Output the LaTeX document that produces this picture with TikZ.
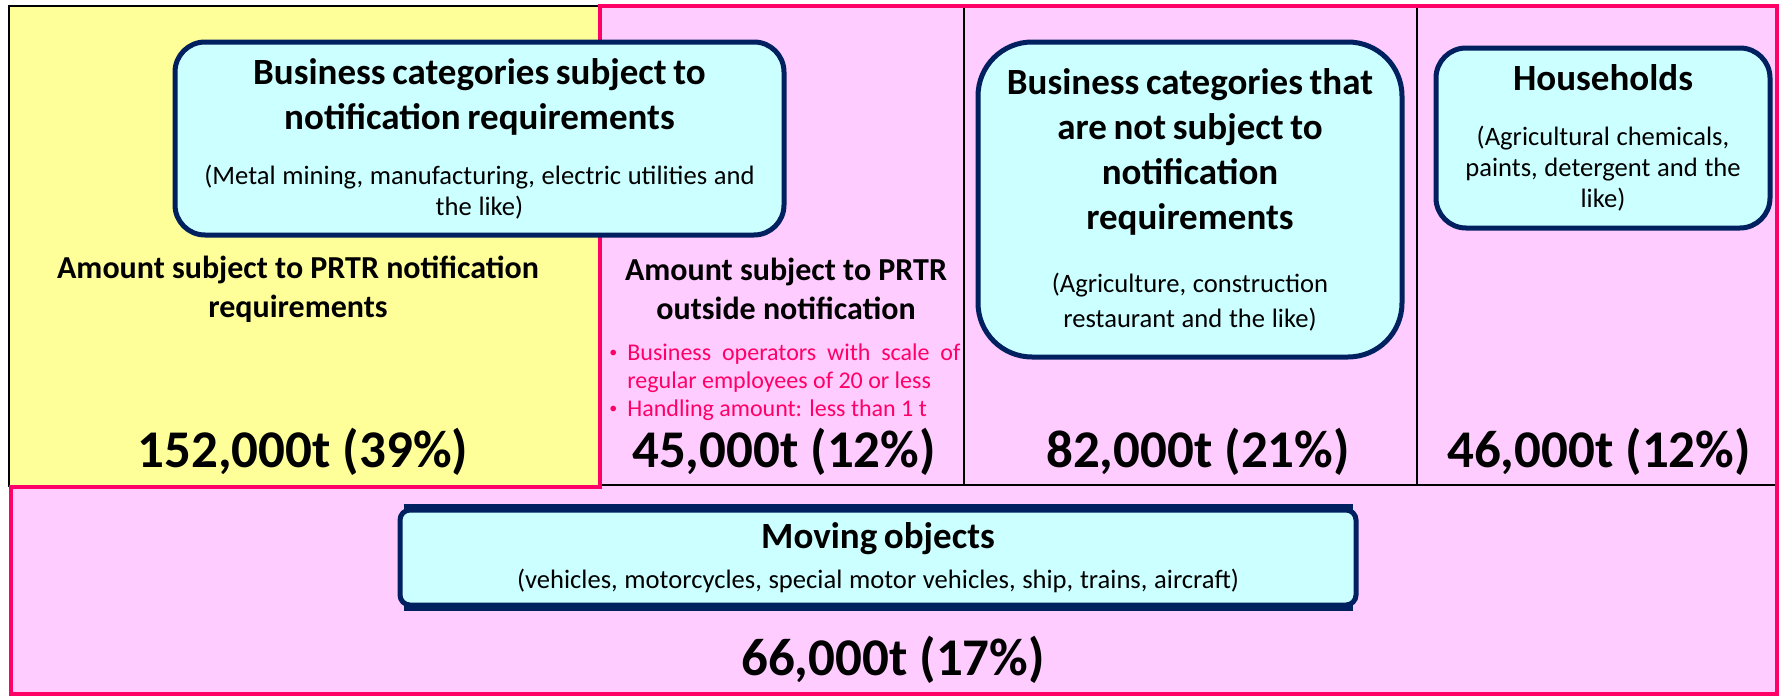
\documentclass[tikz,border=0pt]{standalone}
\usepackage{fontspec}
\setmainfont{Carlito}
\definecolor{cellyellow}{HTML}{FFFF99}
\definecolor{cellpink}{HTML}{FFCCFF}
\definecolor{edgepink}{HTML}{FF0066}
\definecolor{boxcyan}{HTML}{CCFFFF}
\definecolor{boxnavy}{HTML}{002060}
\newcommand{\titlefont}{\fontsize{18.5}{22.5}\selectfont\bfseries}
\newcommand{\subfont}{\fontsize{13.3}{15.5}\selectfont}
\newcommand{\pinkbullet}{\leavevmode\llap{\raisebox{1.5pt}{\fontsize{8}{8}\selectfont\textbullet}\hspace{5pt}}}
\begin{document}
\begin{tikzpicture}[x=0.5pt,y=-0.5pt,
  catbox/.style={draw=boxnavy, fill=boxcyan, line width=2.5pt, align=center, inner sep=0pt},
  bignum/.style={font=\fontsize{26.5}{30}\selectfont\bfseries, inner sep=0pt},
  amount/.style={font=\fontsize{16}{19.5}\selectfont\bfseries, align=center, inner sep=0pt},
  thinline/.style={line width=0.8pt, black},
  pinkedge/.style={draw=edgepink, line width=2pt}]
\useasboundingbox (0,0) rectangle (1784,696);
% cells
\fill[cellyellow] (9,6) rectangle (600,487);
\fill[cellpink] (600,6) -- (1777,6) -- (1777,694) -- (11,694) -- (11,487) -- (600,487) -- cycle;
\draw[thinline] (9,487) -- (9,6) -- (600,6);
\draw[thinline] (600,485) -- (1777,485);
\draw[thinline] (964,6) -- (964,485);
\draw[thinline] (1417,6) -- (1417,485);
\draw[pinkedge] (600,6) -- (1777,6) -- (1777,694) -- (11,694) -- (11,487) -- (600,487) -- cycle;
% headings
\node[amount] (amtin) at (298,289) {Amount subject to PRTR notification\\requirements};
\node[amount] (amtout) at (786,289) {Amount subject to PRTR\\outside notification};
\node[anchor=north west, inner sep=0pt, text width=166.5pt, align=justify, text=edgepink,
  font=\fontsize{12}{14}\selectfont] (bullets) at (627,343)
  {\pinkbullet Business operators with scale of regular employees of 20 or less\par
   \pinkbullet Handling amount: less than 1 t\par};
% numbers
\node[bignum] (n1) at (303,452) {152,000t (39\%)};
\node[bignum] (n2) at (784,452) {45,000t (12\%)};
\node[bignum] (n3) at (1198,452) {82,000t (21\%)};
\node[bignum] (n4) at (1599,452) {46,000t (12\%)};
\node[bignum] (n5) at (893,660) {66,000t (17\%)};
% category boxes
\node[catbox, rounded corners=15pt, minimum width=304.5pt, minimum height=96.5pt, text width=300pt] (notif) at (479.5,138.5)
  {{\titlefont Business categories subject to\\notification requirements\par}\vspace{12pt}
   {\subfont (Metal mining, manufacturing, electric utilities and\\the like)\par}};
\node[catbox, rounded corners=27pt, minimum width=212pt, minimum height=157.5pt, text width=205pt] (notnotif) at (1190,199.5)
  {{\fontsize{18.5}{22.5}\selectfont\bfseries Business categories that\\are not subject to\\notification\\requirements\par}\vspace{14pt}
   {\fontsize{13.3}{17.5}\selectfont (Agriculture, construction\\restaurant and the like)\par}};
\node[catbox, rounded corners=15pt, minimum width=167pt, minimum height=90pt, text width=160pt] (house) at (1603,138)
  {{\titlefont Households\par}\vspace{12pt}
   {\subfont (Agricultural chemicals,\\paints, detergent and the\\like)\par}};
\node[catbox, rounded corners=5pt, minimum width=478pt, minimum height=47.5pt, text width=470pt] (moving) at (878,557.5)
  {{\titlefont Moving objects\par}\vspace{4.5pt}
   {\subfont (vehicles, motorcycles, special motor vehicles, ship, trains, aircraft)\par}};
\draw[boxnavy, line width=3.5pt] ([xshift=3pt]moving.north west) -- ([xshift=-3pt]moving.north east);
\draw[boxnavy, line width=3.5pt] ([xshift=3pt]moving.south west) -- ([xshift=-3pt]moving.south east);
\end{tikzpicture}
\end{document}
